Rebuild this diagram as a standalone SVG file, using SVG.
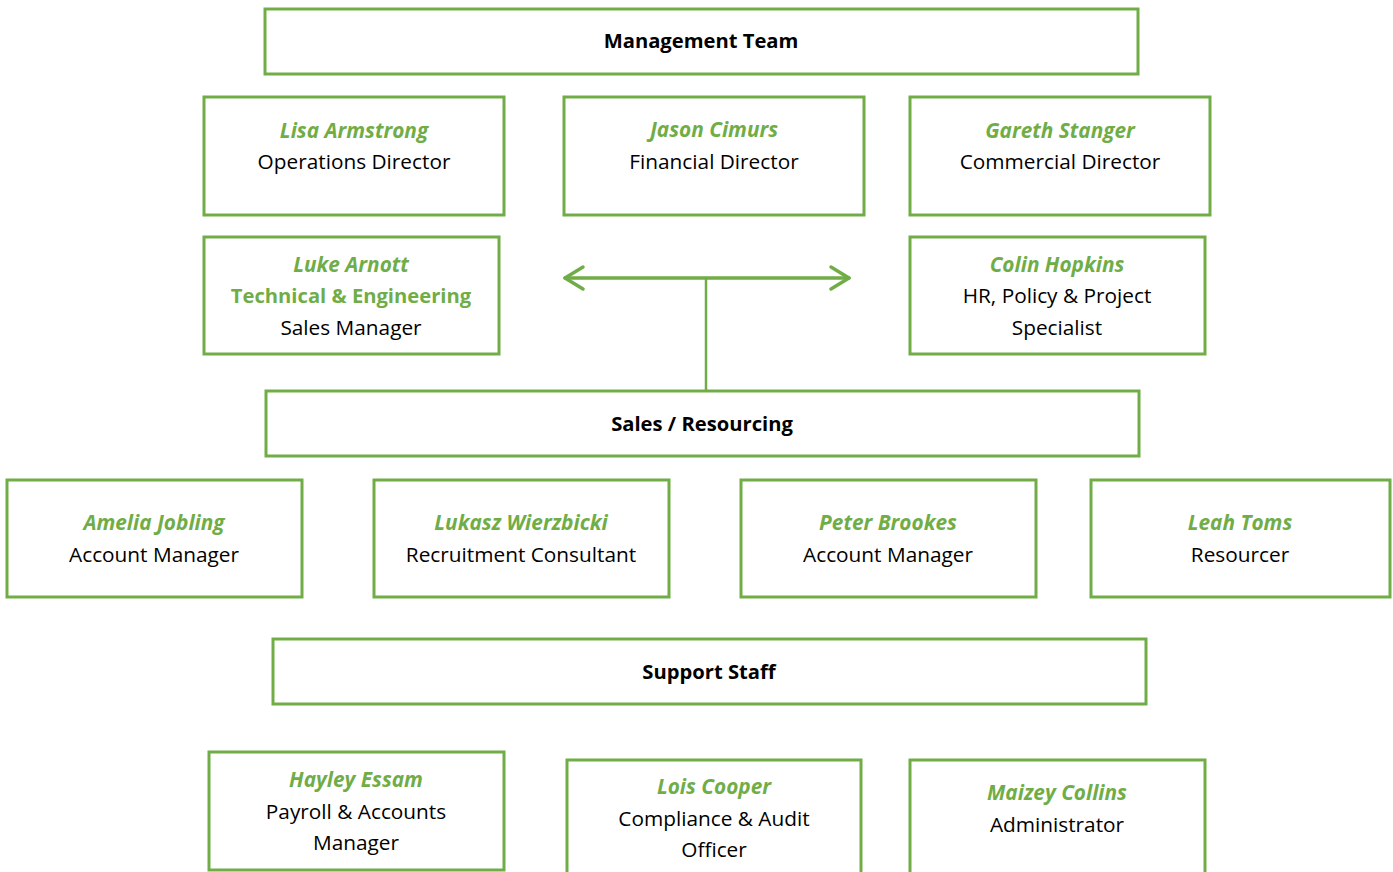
<svg xmlns="http://www.w3.org/2000/svg" width="1393" height="872" viewBox="0 0 1393 872">
<style>
.box{fill:#fff;stroke:#70AD47;stroke-width:3}
text{font-family:"Open Sans","Liberation Sans",sans-serif;font-size:20.8px;text-anchor:middle;fill:#000}
.n{font-style:italic;font-weight:bold;fill:#70AD47}
.h{font-weight:bold;font-size:20.2px}
.c{fill:none;stroke:#70AD47;stroke-width:3.5;stroke-linecap:round;stroke-linejoin:round}
</style>
<rect width="1393" height="872" fill="#fff"/>
<g id="connectors">
<line class="c" x1="565" y1="278" x2="849" y2="278"/>
<polyline class="c" points="583,267 565,278 583,289"/>
<polyline class="c" points="831,267 849,278 831,289"/>
<line class="c" x1="706" y1="278" x2="706" y2="390" style="stroke-width:2.5"/>
</g>
<g id="management-team"><rect class="box" x="265" y="9" width="873" height="65"/><text class="h" x="701" y="48">Management Team</text></g>
<g id="lisa"><rect class="box" x="204" y="97" width="300" height="118"/><text class="n" x="354" y="138">Lisa Armstrong</text><text x="354" y="169">Operations Director</text></g>
<g id="jason"><rect class="box" x="564" y="97" width="300" height="118"/><text class="n" x="714" y="137">Jason Cimurs</text><text x="714" y="169">Financial Director</text></g>
<g id="gareth"><rect class="box" x="910" y="97" width="300" height="118"/><text class="n" x="1060" y="138">Gareth Stanger</text><text x="1060" y="169">Commercial Director</text></g>
<g id="luke"><rect class="box" x="204" y="237" width="295" height="117"/><text class="n" x="351" y="272">Luke Arnott</text><text class="n" x="351" y="303" style="font-style:normal;font-size:20.2px">Technical &amp; Engineering</text><text x="351" y="335">Sales Manager</text></g>
<g id="colin"><rect class="box" x="910" y="237" width="295" height="117"/><text class="n" x="1057" y="272">Colin Hopkins</text><text x="1057" y="303">HR, Policy &amp; Project</text><text x="1057" y="335">Specialist</text></g>
<g id="sales-resourcing"><rect class="box" x="266" y="391" width="873" height="65"/><text class="h" x="702" y="431">Sales / Resourcing</text></g>
<g id="amelia"><rect class="box" x="7" y="480" width="295" height="117"/><text class="n" x="154" y="530">Amelia Jobling</text><text x="154" y="562">Account Manager</text></g>
<g id="lukasz"><rect class="box" x="374" y="480" width="295" height="117"/><text class="n" x="521" y="530">Lukasz Wierzbicki</text><text x="521" y="562">Recruitment Consultant</text></g>
<g id="peter"><rect class="box" x="741" y="480" width="295" height="117"/><text class="n" x="888" y="530">Peter Brookes</text><text x="888" y="562">Account Manager</text></g>
<g id="leah"><rect class="box" x="1091" y="480" width="299" height="117"/><text class="n" x="1240" y="530">Leah Toms</text><text x="1240" y="562">Resourcer</text></g>
<g id="support-staff"><rect class="box" x="273" y="639" width="873" height="65"/><text class="h" x="709" y="679">Support Staff</text></g>
<g id="hayley"><rect class="box" x="209" y="752" width="295" height="118"/><text class="n" x="356" y="787">Hayley Essam</text><text x="356" y="819">Payroll &amp; Accounts</text><text x="356" y="850">Manager</text></g>
<g id="lois"><rect class="box" x="567" y="760" width="294" height="120"/><text class="n" x="714" y="794">Lois Cooper</text><text x="714" y="826">Compliance &amp; Audit</text><text x="714" y="857">Officer</text></g>
<g id="maizey"><rect class="box" x="910" y="760" width="295" height="120"/><text class="n" x="1057" y="800">Maizey Collins</text><text x="1057" y="832">Administrator</text></g>
</svg>
